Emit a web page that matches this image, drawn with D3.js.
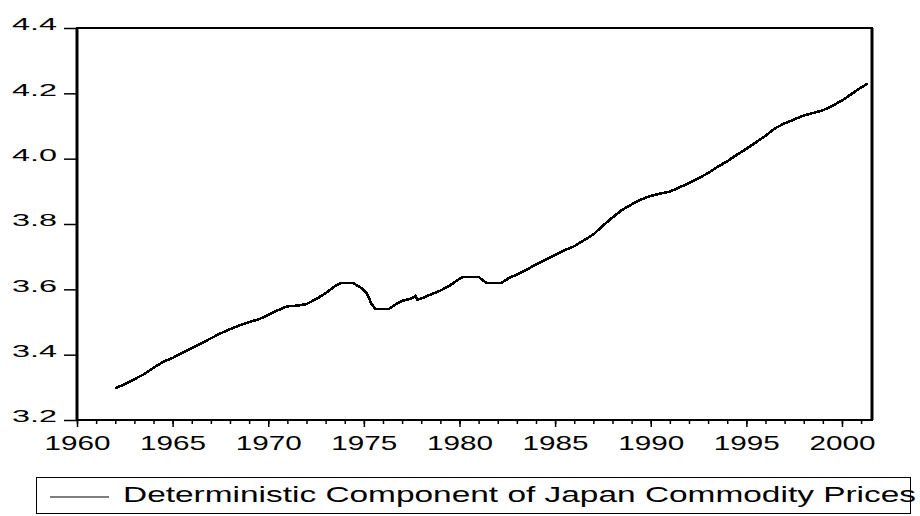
<!DOCTYPE html>
<html>
<head>
<meta charset="utf-8">
<script src="https://cdn.jsdelivr.net/npm/d3@7"></script>
<style>
    body { margin: 0; background: #fff; }
    svg { display: block; font-family: "Liberation Sans", Arial, sans-serif; }
</style>
</head>
<body>
<svg id="chart" width="920" height="516"></svg>
<script>
// values (year, level)
const years = [
    1962.0, 1962.5, 1963.0, 1963.5, 1964.0, 1964.5, 1965.0, 1965.5, 1966.0, 1966.5,
    1967.0, 1967.5, 1968.0, 1968.5, 1969.0, 1969.5, 1970.0, 1970.5, 1971.0, 1971.5,
    1972.0, 1972.5, 1973.0, 1973.5, 1973.8, 1974.4, 1974.8, 1975.15, 1975.4, 1975.6,
    1976.3, 1976.7, 1977.0, 1977.5, 1977.7, 1977.8, 1978.0, 1978.5, 1979.0, 1979.5,
    1980.0, 1980.2, 1981.0, 1981.4, 1982.2, 1982.6, 1983.0, 1983.5, 1984.0, 1984.5,
    1985.0, 1985.5, 1986.0, 1986.5, 1987.0, 1987.5, 1988.0, 1988.5, 1989.0, 1989.5,
    1990.0, 1990.5, 1991.0, 1991.5, 1992.0, 1992.5, 1993.0, 1993.5, 1994.0, 1994.5,
    1995.0, 1995.5, 1996.0, 1996.5, 1997.0, 1997.5, 1998.0, 1998.5, 1999.0, 1999.5,
    2000.0, 2000.5, 2001.0, 2001.35
];
const values = [
    3.297, 3.31, 3.325, 3.34, 3.36, 3.378, 3.39, 3.405, 3.42, 3.435,
    3.45, 3.465, 3.478, 3.49, 3.50, 3.508, 3.522, 3.536, 3.548, 3.55,
    3.555, 3.57, 3.588, 3.61, 3.62, 3.62, 3.607, 3.589, 3.555, 3.54,
    3.54, 3.555, 3.565, 3.572, 3.58, 3.568, 3.572, 3.584, 3.596, 3.612,
    3.632, 3.638, 3.638, 3.62, 3.62, 3.635, 3.645, 3.66, 3.676, 3.69,
    3.705, 3.72, 3.732, 3.75, 3.768, 3.795, 3.82, 3.843, 3.86, 3.875,
    3.886, 3.893, 3.899, 3.912, 3.925, 3.94, 3.956, 3.975, 3.992, 4.012,
    4.03, 4.05, 4.07, 4.093, 4.108, 4.12, 4.132, 4.14, 4.148, 4.162,
    4.178, 4.198, 4.218, 4.23
];
const xTicks = [1960, 1965, 1970, 1975, 1980, 1985, 1990, 1995, 2000];
const xMinor = d3.range(1960, 2002, 1);
const yTicks = [3.2, 3.4, 3.6, 3.8, 4.0, 4.2, 4.4];
const seriesName = "Deterministic Component of Japan Commodity Prices";

const svg = d3.select("#chart");
const plot = { left: 77, right: 872, top: 28, bottom: 420 };

const x = d3.scaleLinear().domain([1960, 2001.57]).range([plot.left, plot.right]);
const y = d3.scaleLinear().domain([3.2, 4.4]).range([plot.bottom, plot.top]);

// minor year ticks
svg.append("g")
    .attr("transform", `translate(0,${plot.bottom})`)
    .call(d3.axisBottom(x).tickValues(xMinor).tickSize(4).tickFormat(""))
    .call(g => g.select(".domain").remove())
    .selectAll("line").attr("stroke", "#000").attr("stroke-width", 1.5);

// x axis
const xAxis = svg.append("g")
    .attr("transform", `translate(0,${plot.bottom})`)
    .call(d3.axisBottom(x).tickValues(xTicks).tickSize(7).tickFormat(d3.format("d")));
xAxis.select(".domain").remove();
xAxis.selectAll("line").attr("stroke", "#000").attr("stroke-width", 1.5);
xAxis.selectAll("text")
    .attr("y", 30).attr("dy", 0)
    .attr("fill", "#000")
    .style("font-size", "21px")
    .attr("textLength", 66)
    .attr("lengthAdjust", "spacingAndGlyphs");

// y axis
const yAxis = svg.append("g")
    .attr("transform", `translate(${plot.left},0)`)
    .call(d3.axisLeft(y).tickValues(yTicks).tickSize(13).tickPadding(7).tickFormat(d3.format(".1f")));
yAxis.select(".domain").remove();
yAxis.selectAll("line").attr("stroke", "#000").attr("stroke-width", 1.5);
yAxis.selectAll("text")
    .attr("dy", "0.12em")
    .attr("fill", "#000")
    .style("font-size", "16px")
    .attr("textLength", 45)
    .attr("lengthAdjust", "spacingAndGlyphs");

// frame
svg.append("rect")
    .attr("x", plot.left).attr("y", plot.top)
    .attr("width", plot.right - plot.left)
    .attr("height", plot.bottom - plot.top)
    .attr("fill", "none")
    .attr("stroke", "#000")
    .attr("stroke-width", 2);
svg.append("line")
    .attr("x1", plot.left).attr("x2", plot.left)
    .attr("y1", plot.top).attr("y2", plot.bottom)
    .attr("stroke", "#000").attr("stroke-width", 3);
svg.append("line")
    .attr("x1", plot.right).attr("x2", plot.right)
    .attr("y1", plot.top).attr("y2", plot.bottom)
    .attr("stroke", "#000").attr("stroke-width", 3);

// series
const line = d3.line()
    .x((d, i) => x(years[i]))
    .y(d => y(d));

svg.append("path")
    .datum(values)
    .attr("d", line)
    .attr("fill", "none")
    .attr("stroke", "#000")
    .attr("stroke-width", 2.6)
    .attr("stroke-linejoin", "round")
    .attr("shape-rendering", "crispEdges");

// legend
const legend = svg.append("g");
legend.append("rect")
    .attr("x", 36.5).attr("y", 477.5)
    .attr("width", 874).attr("height", 36)
    .attr("fill", "none")
    .attr("stroke", "#000")
    .attr("stroke-width", 1);
legend.append("line")
    .attr("x1", 50).attr("x2", 109)
    .attr("y1", 497).attr("y2", 497)
    .attr("stroke", "#000")
    .attr("stroke-width", 1.2);
legend.append("text")
    .attr("x", 123).attr("y", 502)
    .attr("fill", "#000")
    .style("font-size", "22px")
    .attr("textLength", 793)
    .attr("lengthAdjust", "spacingAndGlyphs")
    .text(seriesName);
</script>
</body>
</html>
